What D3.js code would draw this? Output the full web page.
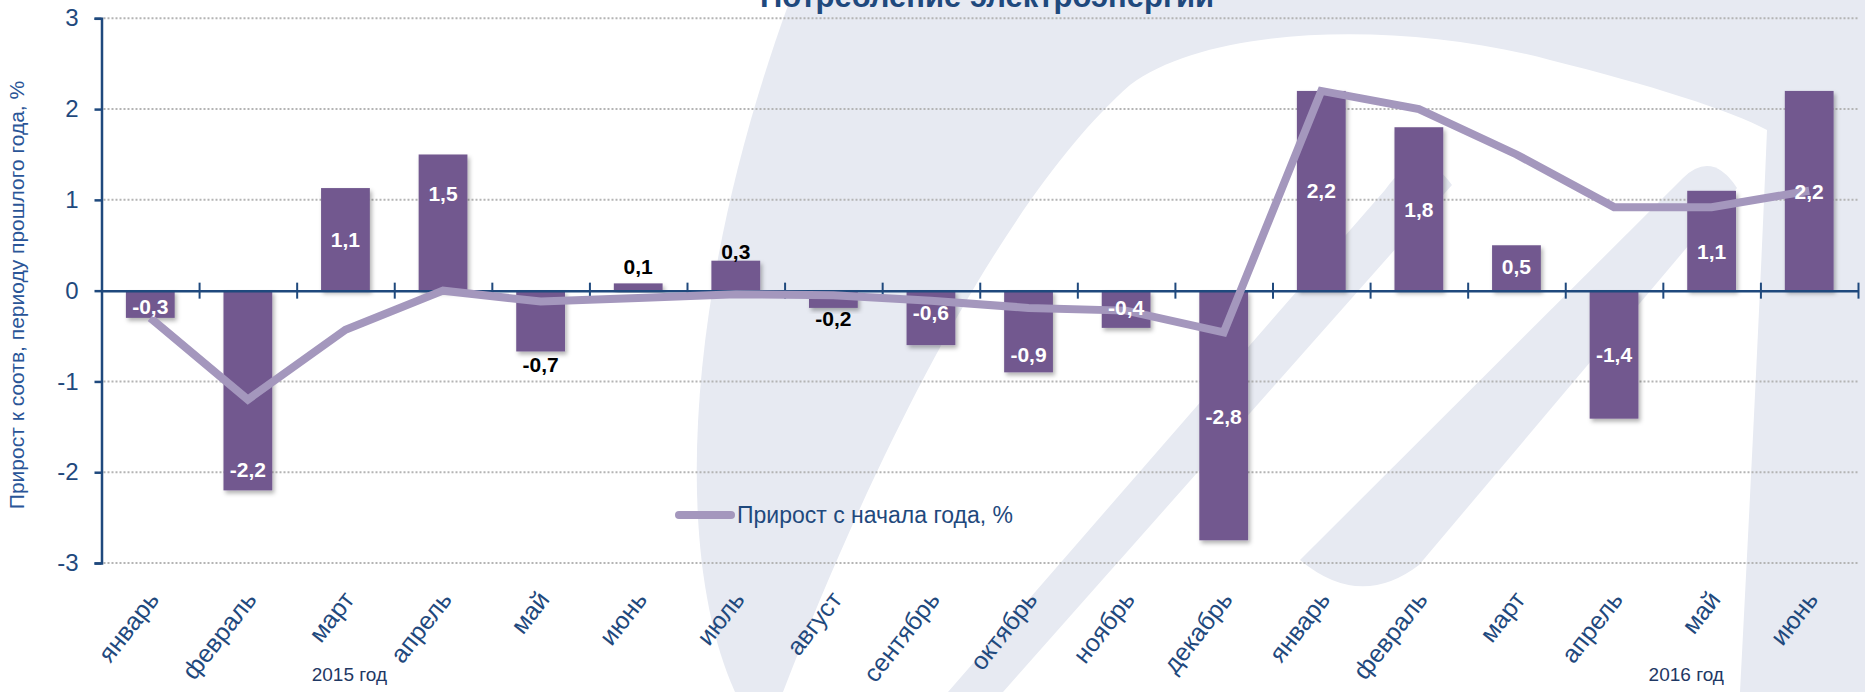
<!DOCTYPE html>
<html>
<head>
<meta charset="utf-8">
<script src="https://cdn.jsdelivr.net/npm/d3@7"></script>
<style>
  body { margin: 0; background: #fff; }
  svg text { font-family: "Liberation Sans Narrow", "Arial Narrow", "Liberation Sans", sans-serif; }
</style>
</head>
<body>
<div class="canvas"></div>
<script>
// data
const months = ['январь','февраль','март','апрель','май','июнь','июль','август','сентябрь','октябрь','ноябрь','декабрь',
                'январь','февраль','март','апрель','май','июнь'];
const monthly = [-0.3, -2.2, 1.13, 1.5, -0.67, 0.08, 0.33, -0.19, -0.6, -0.9, -0.41, -2.75,
                 2.2, 1.8, 0.5, -1.41, 1.1, 2.2];
const monthlyLabels = ['-0,3','-2,2','1,1','1,5','-0,7','0,1','0,3','-0,2','-0,6','-0,9','-0,4','-2,8',
                       '2,2','1,8','0,5','-1,4','1,1','2,2'];
const ytd = [-0.3, -1.2, -0.43, 0, -0.12, -0.08, -0.04, -0.05, -0.11, -0.19, -0.22, -0.46,
             2.2, 2.0, 1.5, 0.92, 0.92, 1.1];
// where each data label sits, in axis units, and whether it is outside the bar
const labelAt = [-0.18, -1.97, 0.56, 1.07, -0.82, 0.26, 0.43, -0.31, -0.24, -0.70, -0.19, -1.39,
                 1.10, 0.89, 0.26, -0.71, 0.43, 1.09];
const labelOutside = [0,0,0,0,1,1,1,1,0,0,0,0,0,0,0,0,0,0];
const yTicks = [-3, -2, -1, 0, 1, 2, 3];
// year captions, placed on the category-edge scale
const years = [{text: '2015 год', at: 2.54}, {text: '2016 год', at: 16.24}];

const W = 1865, H = 692;
const navy = '#1f497d';
const barColor = '#72598f';
const lineColor = '#a497bd';

const svg = d3.select('.canvas')
    .append('svg')
        .attr('width', W)
        .attr('height', H);

const defs = svg.append('defs');
const shadow = defs.append('filter').attr('id', 'shadow')
    .attr('x', '-20%').attr('y', '-20%').attr('width', '150%').attr('height', '150%');
shadow.append('feDropShadow')
    .attr('dx', 2).attr('dy', 3).attr('stdDeviation', 2)
    .attr('flood-color', '#000').attr('flood-opacity', 0.3);

// watermark logo in the background: a big arch with two slanted strokes inside
const wmFill = '#e7eaf2';
const wm = svg.append('g');
wm.append('path')
    .attr('fill', wmFill)
    .attr('d', 'M790,0 L1865,0 L1865,692 L735,692 C675,560 680,300 790,0 Z');
wm.append('path')
    .attr('fill', '#fff')
    .attr('d', 'M783,692 C880,440 1010,190 1130,85 C1210,25 1400,20 1550,60 C1650,85 1730,110 1767,130 C1760,300 1750,500 1740,692 Z');
wm.append('path')
    .attr('fill', wmFill)
    .attr('d', 'M948,692 L1385,190 Q1420,140 1452,185 L1003,692 Z');
wm.append('path')
    .attr('fill', wmFill)
    .attr('d', 'M1300,560 L1683,178 Q1712,150 1737,188 L1419,565 Q1360,610 1300,560 Z');

const x0 = 101.5, x1 = 1858;
const y = d3.scaleLinear().domain([-3, 3]).range([563, 18.3]);
const x = d3.scaleBand()
    .domain(d3.range(months.length))
    .range([x0, x1])
    .paddingInner(0.5)
    .paddingOuter(0.25);
const edge = d3.scaleLinear().domain([0, months.length]).range([x0, x1]);

// title (cut off at the top, as in the source)
svg.append('text')
    .attr('x', 987).attr('y', 7)
    .attr('text-anchor', 'middle')
    .style('font-family', '"Liberation Sans", Arial, sans-serif')
    .style('font-weight', 'bold')
    .style('font-size', '31px')
    .attr('fill', navy)
    .text('Потребление электроэнергии');

// dotted grid
svg.append('g').selectAll('line')
    .data(yTicks.filter(d => d !== 0))
    .enter().append('line')
        .attr('x1', x0 + 2).attr('x2', x1)
        .attr('y1', d => y(d)).attr('y2', d => y(d))
        .attr('stroke', '#b4b4b4')
        .attr('stroke-width', 2)
        .attr('stroke-dasharray', '2,2');

// bars
svg.append('g').selectAll('rect')
    .data(monthly)
    .enter().append('rect')
        .attr('x', (d, i) => x(i))
        .attr('width', x.bandwidth())
        .attr('y', d => y(Math.max(0, d)))
        .attr('height', d => Math.abs(y(d) - y(0)))
        .attr('fill', barColor)
        .attr('filter', 'url(#shadow)');

// y axis
const yAxisGroup = svg.append('g').attr('transform', `translate(${x0},0)`);
yAxisGroup.call(d3.axisLeft(y).tickValues(yTicks).tickSize(7).tickPadding(16).tickFormat(d => String(d)));
yAxisGroup.select('.domain').attr('stroke', navy).attr('stroke-width', 2.5);
yAxisGroup.selectAll('.tick line').attr('stroke', navy).attr('stroke-width', 2.5);
yAxisGroup.selectAll('.tick text')
    .attr('fill', navy)
    .style('font-size', '24px')
    .style('font-family', '"Liberation Sans Narrow", "Arial Narrow", sans-serif');

// zero line with tick marks at category edges
const xAxisGroup = svg.append('g').attr('transform', `translate(0,${y(0)})`);
xAxisGroup.call(d3.axisBottom(edge).tickValues(d3.range(1, months.length + 1)).tickSize(8).tickSizeOuter(0).tickFormat(''));
xAxisGroup.select('.domain').attr('stroke', navy).attr('stroke-width', 2.5);
xAxisGroup.selectAll('.tick line').attr('y1', -8).attr('stroke', navy).attr('stroke-width', 2);

// cumulative line
const line = d3.line()
    .x((d, i) => x(i) + x.bandwidth() / 2)
    .y(d => y(d));
svg.append('path')
    .datum(ytd)
    .attr('d', line)
    .attr('fill', 'none')
    .attr('stroke', lineColor)
    .attr('stroke-width', 8)
    .attr('stroke-linejoin', 'miter');

// data labels
svg.append('g').selectAll('text')
    .data(monthlyLabels)
    .enter().append('text')
        .attr('x', (d, i) => x(i) + x.bandwidth() / 2)
        .attr('y', (d, i) => y(labelAt[i]))
        .attr('dy', '0.35em')
        .attr('text-anchor', 'middle')
        .attr('fill', (d, i) => labelOutside[i] ? '#000' : '#fff')
        .style('font-weight', 'bold')
        .style('font-size', '21px')
        .text(d => d);

// month labels, rotated
svg.append('g').selectAll('text')
    .data(months)
    .enter().append('text')
        .attr('transform', (d, i) => `translate(${x(i) + x.bandwidth() / 2 + 10},${600}) rotate(-52)`)
        .attr('text-anchor', 'end')
        .attr('fill', navy)
        .style('font-size', '25px')
        .text(d => d);

svg.append('g').selectAll('text')
    .data(years)
    .enter().append('text')
        .attr('x', d => edge(d.at))
        .attr('y', 681)
        .attr('text-anchor', 'middle')
        .attr('fill', '#1f3864')
        .style('font-size', '19px')
        .text(d => d.text);

// y axis title
svg.append('text')
    .attr('transform', `translate(24,295) rotate(-90)`)
    .attr('text-anchor', 'middle')
    .attr('fill', '#2a5597')
    .style('font-size', '21px')
    .text('Прирост к соотв, периоду прошлого года, %');

// legend
const legend = svg.append('g');
legend.append('line')
    .attr('x1', 679).attr('x2', 731)
    .attr('y1', 515).attr('y2', 515)
    .attr('stroke', lineColor)
    .attr('stroke-width', 8)
    .attr('stroke-linecap', 'round');
legend.append('text')
    .attr('x', 737).attr('y', 515)
    .attr('dy', '0.35em')
    .attr('fill', navy)
    .style('font-size', '23px')
    .text('Прирост с начала года, %');
</script>
</body>
</html>
